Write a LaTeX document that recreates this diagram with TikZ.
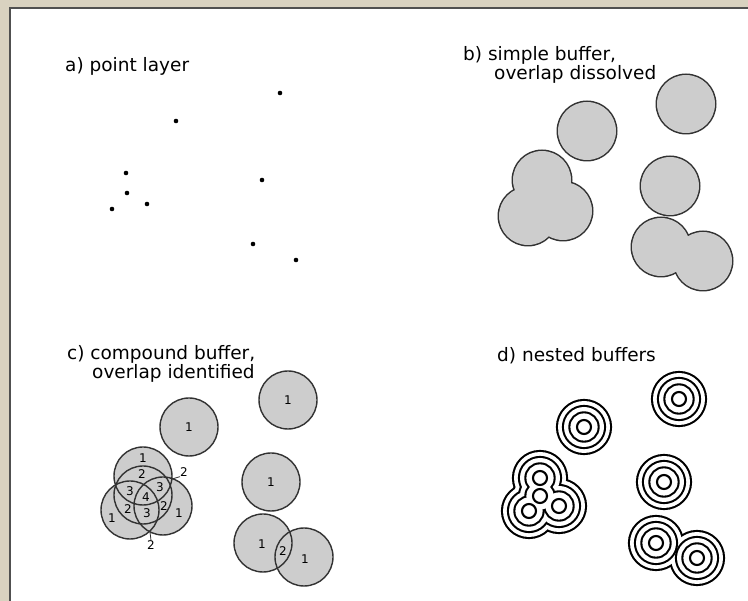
\documentclass[tikz,border=0pt]{standalone}
\usepackage{fontspec}
\setmainfont{DejaVu Sans}
\usepackage{tikz}

\definecolor{paper}{RGB}{217,210,192}
\definecolor{rim}{RGB}{80,80,80}
\definecolor{zone}{RGB}{205,205,205}
\definecolor{outline}{RGB}{50,50,50}

\begin{document}
\begin{tikzpicture}[x=1pt,y=-1pt,
		title/.style={anchor=base west,inner sep=0pt,font=\fontsize{18.5}{20}\selectfont},
		count/.style={inner sep=0pt,font=\fontsize{12}{12}\selectfont},
		ring/.style={black,line width=2.1pt}]
		% page with frame
		\useasboundingbox (0,0) rectangle (748,601);
		\fill[paper] (0,0) rectangle (748,601);
		\fill[white] (10,8) rectangle (748,601);
		\draw[rim,line width=2.2pt] (10,601) -- (10,8) -- (748,8);
		
		% a) point layer
		\node[title] (capA) at (65,72) {a) point layer};
		\foreach \x/\y in {280/93,176/121,126/173,127/193,147/204,112/209,262/180,253/244,296/260}
			\fill (\x,\y) circle (2.3);
		
		% b) simple buffer, only the outline of the union
		\def\rb{29}
		\def\bufB{587/131,686/104,670/186,542/180,543/200,528/216,563/211,661/247,703/261}
		\node[title] (capB) at (463,61) {b) simple buffer,};
		\node[title] (capBb) at (494,80) {overlap dissolved};
		\foreach \x/\y in \bufB
			\draw[outline,line width=3pt] (\x,\y) circle (\rb);
		\foreach \x/\y in \bufB
			\fill[zone] (\x,\y) circle (\rb);
		
		% c) compound buffer, every circle kept
		\def\bufC{189/427,288/400,271/482,263/543,304/557,143/476,143/495,130/510,163/506}
		\node[title] (capC) at (67,360) {c) compound buffer,};
		\node[title] (capCb) at (92,379) {overlap identified};
		\foreach \x/\y in \bufC
			\fill[zone] (\x,\y) circle (29);
		\foreach \x/\y in \bufC
			\draw[outline,line width=1.4pt] (\x,\y) circle (29);
		% overlap counts
		\foreach \x/\y/\k [count=\i] in {189/427/1,288/400/1,271/482/1,262/544/1,305/559/1,283/551/2,
				143/458/1,142/474/2,130/491/3,146/497/4,160/487/3,128/509/2,147/513/3,164/506/2,112/518/1,179/513/1}
			\node[count] (cnt\i) at (\x,\y) {\k};
		\coordinate (tipA) at (172,479);
		\node[count] (twoA) at (184,472) {2};
		\draw[outline,line width=0.8pt] (tipA) -- (twoA.south west);
		\coordinate (tipB) at (150,532);
		\node[count] (twoB) at (151,545) {2};
		\draw[outline,line width=0.8pt] (tipB) -- (twoB.north);
		
		% d) nested buffers, rings from the outside in
		\def\bufD{679/399,584/427,664/482,656/543,697/558,540/478,540/496,529/511,559/506}
		\node[title] (capD) at (497,362) {d) nested buffers};
		\foreach \r in {26,20,13.6}{
			\foreach \x/\y in \bufD
				\draw[black,line width=4.2pt] (\x,\y) circle (\r);
			\foreach \x/\y in \bufD
				\fill[white] (\x,\y) circle (\r);
		}
		\foreach \x/\y in \bufD
			\draw[ring] (\x,\y) circle (7);
\end{tikzpicture}
\end{document}
